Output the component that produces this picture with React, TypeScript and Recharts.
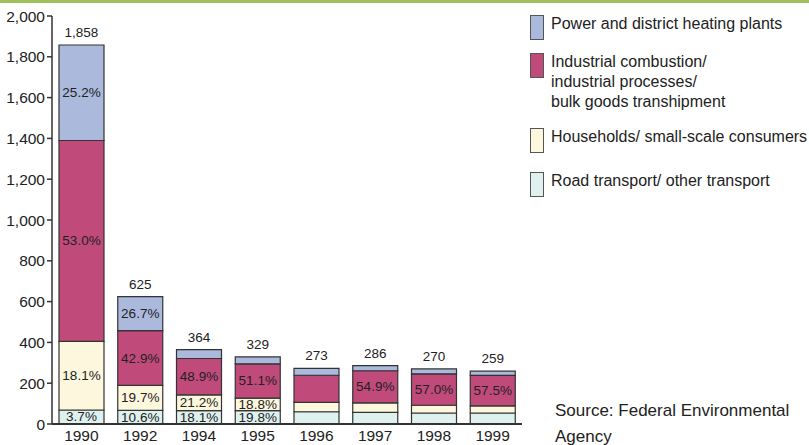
import * as React from "react";
import { BarChart, Bar, XAxis, YAxis, LabelList } from "recharts";

// Emissions by source group, in thousand tonnes
const years = ["1990", "1992", "1994", "1995", "1996", "1997", "1998", "1999"];
const totals = [1858, 625, 364, 329, 273, 286, 270, 259];

const roadTransport = [68.7, 66.3, 65.9, 65.1, 60, 57, 54, 54];
const households = [336.3, 123.1, 77.2, 61.9, 46, 47, 38, 35];
const industrial = [984.7, 268.1, 178, 168.1, 133, 157, 154, 149];
const powerPlants = [468.2, 166.9, 43, 33.9, 34, 25, 24, 21];

const roadPct = ["3.7%", "10.6%", "18.1%", "19.8%", "", "", "", ""];
const householdsPct = ["18.1%", "19.7%", "21.2%", "18.8%", "", "", "", ""];
const industrialPct = ["53.0%", "42.9%", "48.9%", "51.1%", "", "54.9%", "57.0%", "57.5%"];
const powerPct = ["25.2%", "26.7%", "", "", "", "", "", ""];

const yTicks = [0, 200, 400, 600, 800, 1000, 1200, 1400, 1600, 1800, 2000];

const data = years.map((year, i) => ({
  year,
  total: totals[i],
  road: roadTransport[i],
  households: households[i],
  industrial: industrial[i],
  power: powerPlants[i],
  roadPct: roadPct[i],
  householdsPct: householdsPct[i],
  industrialPct: industrialPct[i],
  powerPct: powerPct[i],
}));

const series = [
  { key: "road", pct: "roadPct", color: "#dff1ef", name: "Road transport/ other transport" },
  { key: "households", pct: "householdsPct", color: "#fdf8dd", name: "Households/ small-scale consumers" },
  { key: "industrial", pct: "industrialPct", color: "#c04a7a", name: "Industrial combustion/\nindustrial processes/\nbulk goods transhipment" },
  { key: "power", pct: "powerPct", color: "#abb9dd", name: "Power and district heating plants" },
];

const legendOrder = [...series].reverse();
const legendTops = [15, 53, 128, 172];

const font = "'Liberation Sans', Arial, sans-serif";
const axisColor = "#333";

const renderPct = (props: any) => {
  const { x, y, width, height, value } = props;
  if (!value) return null;
  return (
    <text
      x={x + width / 2}
      y={y + height / 2}
      textAnchor="middle"
      dominantBaseline="central"
      fontSize={13.5}
      fontFamily={font}
      fill="#222"
    >
      {value}
    </text>
  );
};

const renderTotal = (props: any) => {
  const { x, y, width, value } = props;
  return (
    <text
      x={x + width / 2}
      y={y - 8}
      textAnchor="middle"
      fontSize={13.5}
      fontFamily={font}
      fill="#222"
    >
      {Number(value).toLocaleString("en-US")}
    </text>
  );
};

export default function App() {
  return (
    <div
      style={{
        position: "absolute",
        left: 0,
        top: 0,
        width: 809,
        height: 445,
        background: "#fff",
        fontFamily: font,
        overflow: "hidden",
      }}
    >
      <div style={{ position: "absolute", left: 0, top: 0, width: 809, height: 3, background: "#9dc15b" }} />
      <BarChart
        width={809}
        height={445}
        data={data}
        margin={{ top: 16, right: 287, bottom: 0, left: 0 }}
        barSize={45}
      >
        <XAxis
          dataKey="year"
          height={21}
          tickLine={false}
          tickSize={0}
          tickMargin={6}
          axisLine={{ stroke: axisColor, strokeWidth: 2 }}
          tick={{ fontSize: 15.5, fill: "#222", fontFamily: font }}
          interval={0}
        />
        <YAxis
          width={52}
          domain={[0, 2000]}
          ticks={yTicks}
          interval={0}
          tickSize={5}
          tickMargin={2}
          tickFormatter={(v: number) => v.toLocaleString("en-US")}
          axisLine={{ stroke: axisColor, strokeWidth: 1.5 }}
          tickLine={{ stroke: axisColor, strokeWidth: 1.5 }}
          tick={{ fontSize: 15.5, fill: "#222", fontFamily: font }}
        />
        {series.map((s) => (
          <Bar
            key={s.key}
            dataKey={s.key}
            stackId="a"
            fill={s.color}
            stroke="#333"
            strokeWidth={1.2}
            isAnimationActive={false}
          >
            <LabelList dataKey={s.pct} content={renderPct} />
            {s.key === "power" && <LabelList dataKey="total" content={renderTotal} />}
          </Bar>
        ))}
      </BarChart>

      {legendOrder.map((s, i) => (
        <div key={s.key} style={{ position: "absolute", left: 530, top: legendTops[i] }}>
          <div
            style={{
              position: "absolute",
              left: 0,
              top: 0,
              width: 12,
              height: 23,
              background: s.color,
              border: "1px solid #555",
            }}
          />
          <div
            style={{
              position: "absolute",
              left: 21,
              top: -1,
              width: 290,
              fontSize: 16,
              lineHeight: "20px",
              color: "#222",
              whiteSpace: "pre",
            }}
          >
            {s.name}
          </div>
        </div>
      ))}

      <div
        style={{
          position: "absolute",
          left: 555,
          top: 398,
          fontSize: 17,
          lineHeight: "26px",
          color: "#222",
        }}
      >
        Source: Federal Environmental
        <br />
        Agency
      </div>
    </div>
  );
}
